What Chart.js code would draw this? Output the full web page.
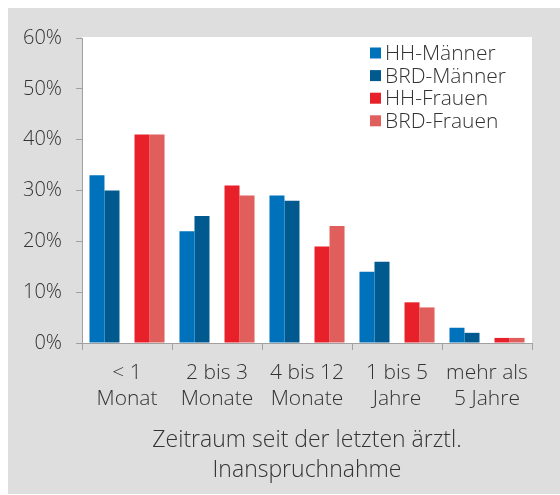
<!DOCTYPE html>
<html>
<head>
<meta charset="utf-8">
<script src="https://cdn.jsdelivr.net/npm/chart.js@4"></script>
<style>
  html, body { margin: 0; padding: 0; background: #fff; }
  #wrap { width: 560px; height: 495px; }
</style>
</head>
<body>
<div id="wrap"><canvas id="chart" width="560" height="495"></canvas></div>
<script>
// Zeitraum seit der letzten ärztlichen Inanspruchnahme, HH vs. BRD, by sex
const categories = [
  ["< 1", "Monat"],
  ["2 bis 3", "Monate"],
  ["4 bis 12", "Monate"],
  ["1 bis 5", "Jahre"],
  ["mehr als", "5 Jahre"]
];
const hhMaenner = [33, 22, 29, 14, 3];
const brdMaenner = [30, 25, 28, 16, 2];
const hhFrauen = [41, 31, 19, 8, 1];
const brdFrauen = [41, 29, 23, 7, 1];
const yTicks = [0, 10, 20, 30, 40, 50, 60];

const TEXT = "#333333";
const AXIS = "#a0a0a0";
const FONT = "'Open Sans'";

// grey panel + white plot area
const background = {
  id: "background",
  beforeDraw(chart) {
    const { ctx, chartArea: a } = chart;
    ctx.save();
    ctx.fillStyle = "#dedede";
    ctx.fillRect(8, 8, 552, 486);
    ctx.fillStyle = "#ffffff";
    ctx.fillRect(a.left, a.top - 1, a.right - a.left, a.bottom - a.top + 1);
    ctx.restore();
  }
};

// legend inside the plot area, top right
const insideLegend = {
  id: "insideLegend",
  afterDraw(chart) {
    const { ctx, chartArea: a } = chart;
    const items = chart.data.datasets.filter(d => d.label);
    ctx.save();
    ctx.font = "300 21px " + FONT;
    ctx.textBaseline = "middle";
    items.forEach((d, i) => {
      const y = a.top + 15 + i * 22.6;
      const x = a.right - 162;
      ctx.fillStyle = d.backgroundColor;
      ctx.fillRect(x, y - 5.5, 11, 11);
      ctx.fillStyle = TEXT;
      ctx.fillText(d.label, x + 15, y + 1);
    });
    ctx.restore();
  }
};

new Chart(document.getElementById("chart"), {
  type: "bar",
  data: {
    labels: categories,
    datasets: [
      { label: "HH-Männer", data: hhMaenner, backgroundColor: "#0072bc" },
      { label: "BRD-Männer", data: brdMaenner, backgroundColor: "#00598f" },
      { label: "", data: categories.map(() => null), backgroundColor: "rgba(0,0,0,0)" },
      { label: "HH-Frauen", data: hhFrauen, backgroundColor: "#e8202a" },
      { label: "BRD-Frauen", data: brdFrauen, backgroundColor: "#e05f5c" }
    ]
  },
  options: {
    responsive: false,
    animation: false,
    layout: { padding: { left: 8, right: 28, top: 38, bottom: 9 } },
    datasets: { bar: { categoryPercentage: 0.834, barPercentage: 1 } },
    plugins: { legend: { display: false }, tooltip: { enabled: false } },
    scales: {
      x: {
        grid: { display: true, drawOnChartArea: false, color: AXIS, tickLength: 7, offset: true },
        border: { color: AXIS, width: 1 },
        ticks: { color: TEXT, font: { family: FONT, size: 21, weight: 300, lineHeight: 1.24 }, padding: 10, maxRotation: 0 },
        title: {
          display: true,
          text: ["Zeitraum seit der letzten ärztl.", "Inanspruchnahme"],
          color: TEXT,
          font: { family: FONT, size: 23, weight: 300, lineHeight: 1.32 },
          padding: { top: 0, bottom: 0 }
        },
        afterFit(scale) { scale.height = 143; }
      },
      y: {
        min: 0,
        max: 60,
        grid: { display: true, drawOnChartArea: false, color: AXIS, tickLength: 6 },
        border: { color: AXIS, width: 1 },
        afterBuildTicks(scale) { scale.ticks = yTicks.map(v => ({ value: v })); },
        ticks: {
          color: TEXT,
          font: { family: FONT, size: 20, weight: 300 },
          padding: 14,
          callback: v => v + "%"
        },
        afterFit(scale) { scale.width = 74; }
      }
    }
  },
  plugins: [background, insideLegend]
});
</script>
</body>
</html>
